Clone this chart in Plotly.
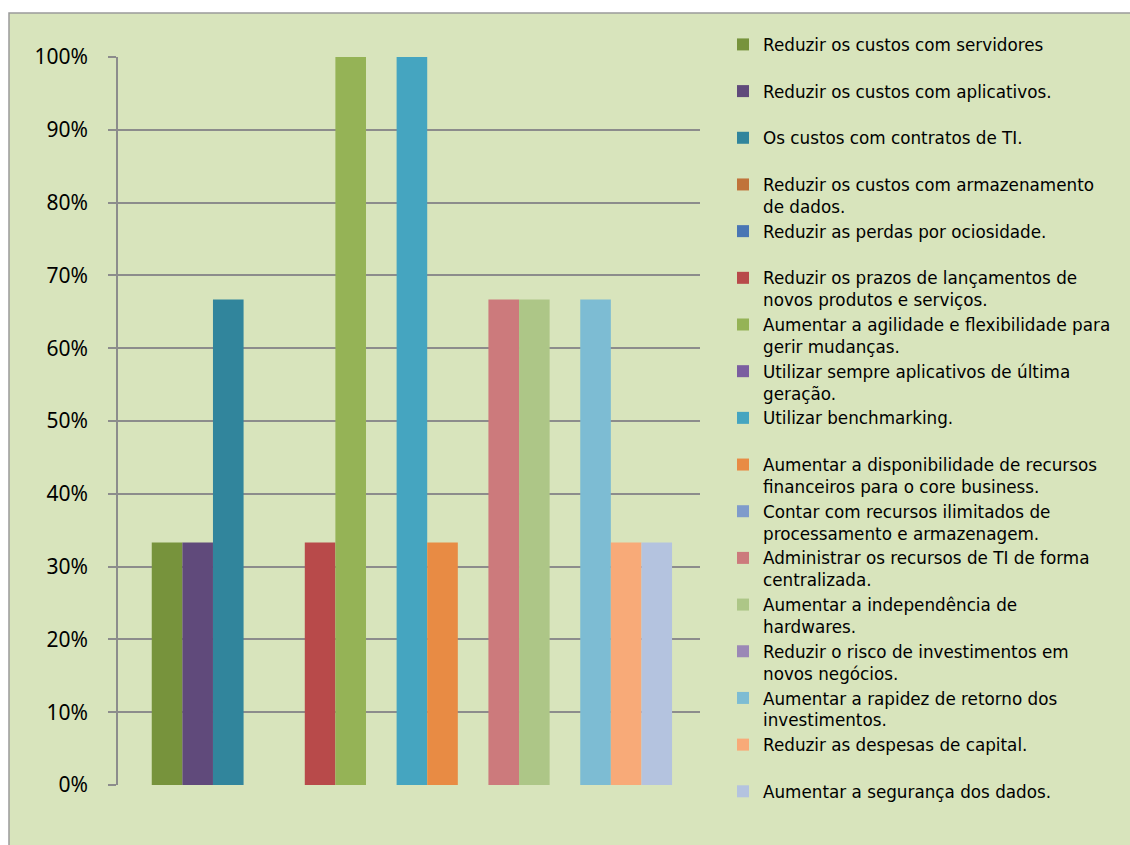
import plotly.graph_objects as go

# ---- data ----
series_names = [
    "Reduzir os custos com servidores",
    "Reduzir os custos com aplicativos.",
    "Os custos com contratos de TI.",
    "Reduzir os custos com armazenamento<br>de dados.",
    "Reduzir as perdas por ociosidade.",
    "Reduzir os prazos de lançamentos de<br>novos produtos e serviços.",
    "Aumentar a agilidade e flexibilidade para<br>gerir mudanças.",
    "Utilizar sempre aplicativos de última<br>geração.",
    "Utilizar benchmarking.",
    "Aumentar a disponibilidade de recursos<br>financeiros para o core business.",
    "Contar com recursos ilimitados de<br>processamento e armazenagem.",
    "Administrar os recursos de TI de forma<br>centralizada.",
    "Aumentar a independência de<br>hardwares.",
    "Reduzir o risco de investimentos em<br>novos negócios.",
    "Aumentar a rapidez de retorno dos<br>investimentos.",
    "Reduzir as despesas de capital.",
    "Aumentar a segurança dos dados.",
]
series_values = [0.333, 0.333, 0.667, 0.0, 0.0, 0.333, 1.0, 0.0, 1.0,
                 0.333, 0.0, 0.667, 0.667, 0.0, 0.667, 0.333, 0.333]
series_colors = ["#77933C", "#604A7B", "#31859C", "#C0733A", "#4A76B4",
                 "#B84A4A", "#95B356", "#7B5EA0", "#45A5C0", "#E88B44",
                 "#7F9BCB", "#CC7A7C", "#ADC687", "#9B88B6", "#7DBCD3",
                 "#F8AA78", "#B4C3DF"]
category = [""]
y_ticks = [0, 0.1, 0.2, 0.3, 0.4, 0.5, 0.6, 0.7, 0.8, 0.9, 1.0]
y_tick_labels = ["0%", "10%", "20%", "30%", "40%", "50%", "60%", "70%", "80%", "90%", "100%"]

W, H = 1130, 845
L, R, T, B = 118, 430, 57, 60
PW = W - L - R
PH = H - T - B

fig = go.Figure()
for name, val, col in zip(series_names, series_values, series_colors):
    label = name if "<br>" in name else name + "<br> "
    fig.add_trace(go.Bar(
        x=category, y=[val], name=label,
        marker=dict(color=col, line=dict(width=0)),
        hoverinfo="name+y",
    ))

def px_x(p):
    return (p - L) / PW

def px_y(p):
    return (H - B - p) / PH

fig.update_layout(
    width=W, height=H,
    margin=dict(l=L, r=R, t=T, b=B),
    paper_bgcolor="white",
    plot_bgcolor="rgba(0,0,0,0)",
    barmode="group",
    bargap=0.106,
    bargroupgap=0,
    showlegend=True,
    legend=dict(
        x=px_x(723), y=px_y(27), xanchor="left", yanchor="top",
        font=dict(family="DejaVu Sans", size=16.8, color="black"),
        valign="top",
        bgcolor="rgba(0,0,0,0)",
        itemclick=False, itemdoubleclick=False,
        traceorder="normal",
        maxheight=840,
    ),
    xaxis=dict(
        range=[-0.505, 0.495], showticklabels=False, showgrid=False,
        zeroline=False, showline=False, fixedrange=True,
    ),
    yaxis=dict(
        range=[0, 1.0], tickvals=y_ticks, ticktext=y_tick_labels,
        showgrid=True, gridcolor="#8C8C8C", gridwidth=1.5,
        zeroline=False, showline=True, linecolor="#8C8C8C", linewidth=1.5,
        ticks="outside", ticklen=8, tickcolor="#8C8C8C", tickwidth=1.5,
        ticklabelstandoff=16,
        tickfont=dict(family="Noto Sans", size=21, color="black"),
        fixedrange=True,
    ),
    shapes=[dict(
        type="rect", xref="paper", yref="paper",
        x0=px_x(9), x1=px_x(1140), y0=px_y(860), y1=px_y(13),
        fillcolor="#D8E4BC", line=dict(color="#9A9A9A", width=1.5),
        layer="below",
    )],
)

fig.write_html("out.html")
